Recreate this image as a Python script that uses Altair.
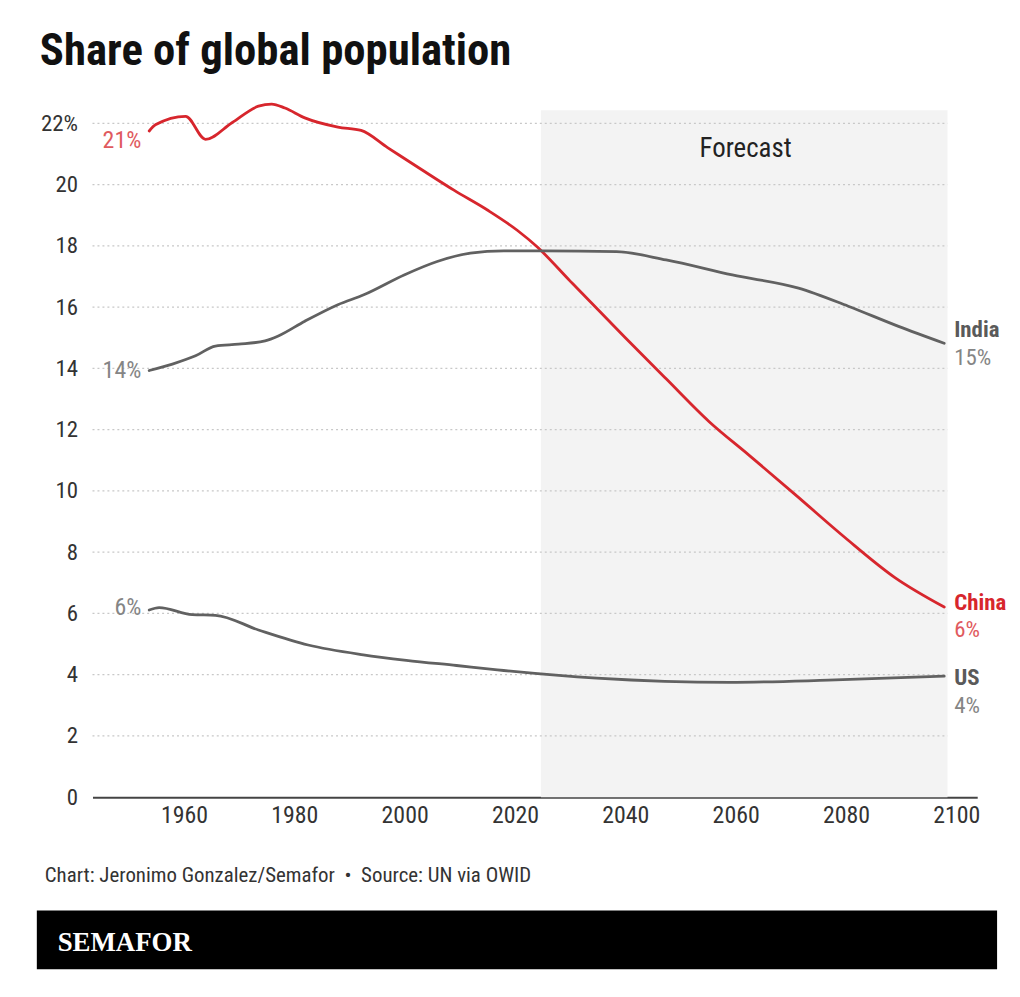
import altair as alt
import pandas as pd

# ---------------- data ----------------
china_years = [1953.7, 1954.9, 1960.3, 1963.9, 1968.7, 1973.5, 1975.9, 1978.3, 1981.9,
               1987.9, 1992.1, 1996.9, 2002.9, 2009.0, 2015.0, 2020.4, 2024.0, 2030.0,
               2040.0, 2047.4, 2055.2, 2062.4, 2070.8, 2079.8, 2088.8, 2097.8]
china_values = [21.75, 21.96, 22.23, 21.48, 22.02, 22.56, 22.63, 22.50, 22.18,
                21.88, 21.77, 21.21, 20.51, 19.81, 19.17, 18.51, 17.97, 16.85,
                15.0, 13.66, 12.26, 11.17, 9.88, 8.48, 7.18, 6.21]

india_years = [1953.7, 1957.9, 1962.1, 1965.7, 1969.9, 1974.7, 1977.1, 1981.9, 1987.9,
               1992.7, 1999.9, 2005.9, 2011.9, 2018.0, 2025.2, 2038.4, 2047.4, 2059.4,
               2071.4, 2080.4, 2089.4, 2097.8]
india_values = [13.93, 14.14, 14.41, 14.73, 14.79, 14.90, 15.06, 15.54, 16.08,
                16.41, 17.05, 17.49, 17.76, 17.84, 17.84, 17.81, 17.54, 17.05,
                16.62, 16.03, 15.38, 14.82]

us_years = [1953.7, 1955.5, 1961.5, 1965.7, 1973.5, 1982.5, 1992.5, 2000.3, 2009.4,
            2016.8, 2034.8, 2058.8, 2076.8, 2097.8]
us_values = [6.11, 6.19, 5.96, 5.94, 5.46, 4.97, 4.65, 4.47, 4.30,
             4.16, 3.89, 3.75, 3.82, 3.95]

countries = ["China", "India", "US"]
start_texts = ["21%", "14%", "6%"]
end_names = ["China", "India", "US"]
end_texts = ["6%", "15%", "4%"]

forecast_start = 2024.7
forecast_end = 2098.4
forecast_top = 22.43

x_ticks = [1960, 1980, 2000, 2020, 2040, 2060, 2080, 2100]
y_ticks = [0, 2, 4, 6, 8, 10, 12, 14, 16, 18, 20, 22]

TITLE = "Share of global population"
FORECAST = "Forecast"
FOOTER = "Chart: Jeronimo Gonzalez/Semafor\u00a0\u00a0\u2022\u00a0\u00a0Source: UN via OWID"
BRAND = "SEMAFOR"

# ---------------- tables ----------------
series = {"China": (china_years, china_values),
          "India": (india_years, india_values),
          "US": (us_years, us_values)}
rows = []
for c, (yrs, vals) in series.items():
    for yr, v in zip(yrs, vals):
        rows.append({"country": c, "year": yr, "share": v})
lines_df = pd.DataFrame(rows)

start_df = pd.DataFrame({
    "country": countries,
    "year": [series[c][0][0] for c in countries],
    "share": [series[c][1][0] for c in countries],
    "label": start_texts,
})
end_df = pd.DataFrame({
    "country": countries,
    "year": [series[c][0][-1] for c in countries],
    "share": [series[c][1][-1] for c in countries],
    "name": end_names,
    "pct": end_texts,
})

X_MIN, X_MAX = 1943.42, 2103.78
xs = alt.Scale(domain=[X_MIN, X_MAX], nice=False, zero=False)
ys = alt.Scale(domain=[0, 22.75], nice=False, zero=True)

FONT = "Roboto Condensed, Liberation Sans Narrow, Arial Narrow, Roboto, sans-serif"
RED = "#d7262d"
RED_LIGHT = "#e05a5e"
GRAY_LINE = "#616161"
GRAY_TEXT = "#858585"
GRAY_BOLD = "#5a5a5a"

X_AXIS = alt.Axis(values=x_ticks, format="d", grid=False, ticks=False,
                  domainColor="#444444", domainWidth=2,
                  labelFont=FONT, labelFontSize=24, labelColor="#333333",
                  labelPadding=6, labelFlush=False, title=None)
Y_AXIS = alt.Axis(values=y_ticks, grid=False, ticks=False, domain=False,
                  labelFont=FONT, labelFontSize=23, labelColor="#333333",
                  labelPadding=15, title=None,
                  labelExpr="datum.value == 22 ? '22%' : datum.label")


def X(field):
    return alt.X(field, scale=xs, axis=X_AXIS, title=None)


def Y(field):
    return alt.Y(field, scale=ys, axis=Y_AXIS, title=None)


# forecast shading
shade = alt.Chart(pd.DataFrame({"a": [forecast_start], "b": [forecast_end],
                                "lo": [0], "hi": [forecast_top]})).mark_rect(
    color="#f3f3f3").encode(x=X("a:Q"), x2="b:Q", y=Y("lo:Q"), y2="hi:Q")

grid_df = pd.DataFrame({"v": y_ticks[1:], "x0": X_MIN, "x1": forecast_end})
grid = alt.Chart(grid_df).mark_rule(color="#c8c8c8", strokeWidth=1.2,
                                    strokeDash=[2, 3]).encode(
    x=X("x0:Q"), x2="x1:Q", y=Y("v:Q"))

color_scale = alt.Scale(domain=countries, range=[RED, GRAY_LINE, GRAY_LINE])

lines = alt.Chart(lines_df).mark_line(strokeWidth=2.8, strokeJoin="round",
                                      strokeCap="round",
                                      interpolate="monotone").encode(
    x=X("year:Q"), y=Y("share:Q"),
    color=alt.Color("country:N", scale=color_scale, legend=None),
    detail="country:N")

start_layers = []
for c, dy in zip(countries, [10, 1, -2]):
    start_layers.append(
        alt.Chart(start_df[start_df.country == c]).mark_text(
            align="right", baseline="middle", dx=-8, dy=dy, font=FONT, fontSize=24,
            color=RED_LIGHT if c == "China" else GRAY_TEXT).encode(
            x=X("year:Q"), y=Y("share:Q"), text="label:N"))

end_layers = []
for c, dy_name, dy_pct in zip(countries, [-4, -13, 2], [23, 15, 30]):
    sub = end_df[end_df.country == c]
    end_layers.append(
        alt.Chart(sub).mark_text(align="left", baseline="middle", dx=10, dy=dy_name,
                                 font=FONT, fontSize=23, fontWeight="bold",
                                 color=RED if c == "China" else GRAY_BOLD).encode(
            x=X("year:Q"), y=Y("share:Q"), text="name:N"))
    end_layers.append(
        alt.Chart(sub).mark_text(align="left", baseline="middle", dx=10, dy=dy_pct,
                                 font=FONT, fontSize=23,
                                 color=RED_LIGHT if c == "China" else GRAY_TEXT).encode(
            x=X("year:Q"), y=Y("share:Q"), text="pct:N"))


def txt(text, x, y, **kw):
    return alt.Chart(pd.DataFrame({"t": [text]})).mark_text(**kw).encode(
        x=alt.value(x), y=alt.value(y), text="t:N")


title = txt(TITLE, -53, -36, align="left", baseline="alphabetic", font=FONT,
            fontSize=45, fontWeight="bold", color="#111111")
forecast = txt(FORECAST, 657, 49, align="center", baseline="middle", font=FONT,
               fontSize=27, color="#222222")
footer = txt(FOOTER, -48, 780, align="left", baseline="middle", font=FONT,
             fontSize=21, color="#333333")

bar = alt.Chart(pd.DataFrame({"k": [0]})).mark_rect(color="#000000").encode(
    x=alt.value(-56), x2=alt.value(910), y=alt.value(815), y2=alt.value(874))
brand = txt(BRAND, -35, 848, align="left", baseline="middle",
            font="Liberation Serif, DejaVu Serif, serif", fontSize=27,
            fontWeight="bold", color="#ffffff")

chart = alt.layer(shade, grid, lines, *start_layers, *end_layers,
                  title, forecast, footer, bar, brand).properties(
    width=890, height=701,
    background="#ffffff",
    autosize=alt.AutoSizeParams(type="none"),
    padding={"left": 85, "top": 90, "right": 35, "bottom": 190},
).configure_view(stroke=None)

chart.save("out.html", embed_options={"renderer": "svg", "actions": False})
